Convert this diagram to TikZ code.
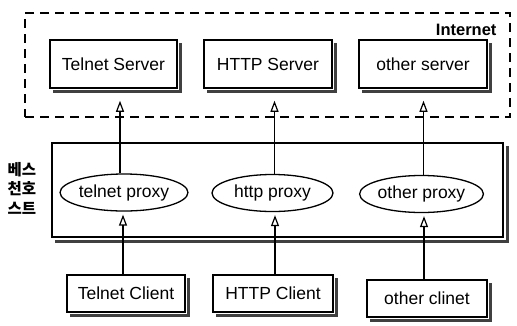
\documentclass[tikz,border=0pt]{standalone}
\usepackage{fontspec}
\setmainfont{Liberation Sans}
\newfontfamily\kofont{Noto Sans CJK KR}
\usetikzlibrary{arrows.meta,shapes.geometric}

\begin{document}
\begin{tikzpicture}[x=1pt,y=-1pt,
    font=\fontsize{17.5}{20}\selectfont,
    hostbox/.style={draw,line width=1.5pt,fill=white,minimum height=#1,inner sep=0pt},
    proxy/.style={draw,ellipse,line width=1.3pt,minimum height=37,inner sep=0pt},
    flow/.style={line width=1.3pt,-{Triangle[open,length=11pt,width=8pt,line width=1.2pt]}},
    shadowline/.style={draw=black!75,line width=3pt,line cap=butt,line join=miter}]
  \useasboundingbox (0,0) rectangle (517,325);

  % internet side
  \node[draw,dashed,dash pattern=on 9pt off 6pt,line width=1.4pt,minimum width=485,minimum height=104] (inet) at (267.5,65) {};
  \node[anchor=east,font=\fontsize{16.5}{19}\selectfont\bfseries] (inetlbl) at (500,30) {Internet};
  \node[hostbox=48,minimum width=127] (tsrv) at (113.5,64) {Telnet Server};
  \node[hostbox=48,minimum width=128] (hsrv) at (268,64) {HTTP Server};
  \node[hostbox=48,minimum width=128] (osrv) at (423,64) {other server};

  % bastion host
  \node[draw,line width=2pt,minimum width=451,minimum height=94,fill=white] (bast) at (277.5,190) {};
  \node[align=center,font=\kofont\bfseries\fontsize{15.5}{19.5}\selectfont] (bastlbl) at (22,188) {베스\\천호\\스트};
  \node[proxy,minimum width=122] (tpx) at (124,192.5) {telnet proxy};
  \node[proxy,minimum width=121] (hpx) at (272.5,193) {http proxy};
  \node[proxy,minimum width=123] (opx) at (421.5,194) {other proxy};

  % clients
  \node[hostbox=37,minimum width=118] (tcli) at (126,293.5) {Telnet Client};
  \node[hostbox=37,minimum width=120] (hcli) at (273,293.5) {HTTP Client};
  \node[hostbox=37,minimum width=120] (ocli) at (427,298.5) {other clinet};

  % shadows, right and bottom
  \draw[shadowline] ([shift={(3,4)}]tsrv.north east) -- ([shift={(3,3)}]tsrv.south east) -- ([shift={(4,3)}]tsrv.south west);
  \draw[shadowline] ([shift={(3,4)}]hsrv.north east) -- ([shift={(3,3)}]hsrv.south east) -- ([shift={(4,3)}]hsrv.south west);
  \draw[shadowline] ([shift={(3,4)}]osrv.north east) -- ([shift={(3,3)}]osrv.south east) -- ([shift={(4,3)}]osrv.south west);
  \draw[shadowline] ([shift={(3,4)}]bast.north east) -- ([shift={(3,3)}]bast.south east) -- ([shift={(4,3)}]bast.south west);
  \draw[shadowline] ([shift={(3,4)}]tcli.north east) -- ([shift={(3,3)}]tcli.south east) -- ([shift={(4,3)}]tcli.south west);
  \draw[shadowline] ([shift={(3,4)}]hcli.north east) -- ([shift={(3,3)}]hcli.south east) -- ([shift={(4,3)}]hcli.south west);
  \draw[shadowline] ([shift={(3,4)}]ocli.north east) -- ([shift={(3,3)}]ocli.south east) -- ([shift={(4,3)}]ocli.south west);

  \draw[flow,shorten >=12pt] ([xshift=-4pt]tpx.north) -- ([xshift=-4pt]tpx.north |- tsrv.south);
  \draw[flow,shorten >=12pt] ([xshift=2pt]hpx.north) -- ([xshift=2pt]hpx.north |- hsrv.south);
  \draw[flow,shorten >=12pt] ([xshift=2pt]opx.north) -- ([xshift=2pt]opx.north |- osrv.south);

  \draw[flow,shorten >=3pt] ([xshift=-3pt]tcli.north) -- ([xshift=-3pt]tcli.north |- tpx.south);
  \draw[flow,shorten >=3pt] ([xshift=2pt]hcli.north) -- ([xshift=2pt]hcli.north |- hpx.south);
  \draw[flow,shorten >=3pt] ([xshift=-3pt]ocli.north) -- ([xshift=-3pt]ocli.north |- opx.south);
\end{tikzpicture}
\end{document}
